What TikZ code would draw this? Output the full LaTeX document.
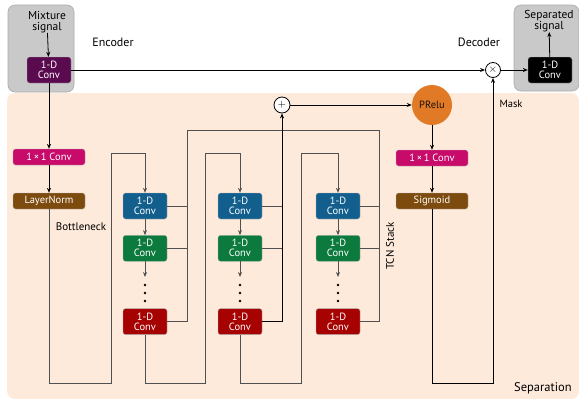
\documentclass[tikz,border=0pt]{standalone}
\usepackage{fontspec}
\setmainfont{PT Sans}
\usetikzlibrary{arrows.meta,positioning,calc}
\definecolor{Peach}{HTML}{FDEADB}
\definecolor{Shade}{HTML}{C9C9C9}
\definecolor{ShadeLine}{HTML}{ABABAB}
\definecolor{Plum}{HTML}{5A0A4E}
\definecolor{Rose}{HTML}{C80A6A}
\definecolor{Umber}{HTML}{7E4B0E}
\definecolor{Ocean}{HTML}{125F8E}
\definecolor{Forest}{HTML}{0D7A3D}
\definecolor{Crimson}{HTML}{A60202}
\definecolor{Tangerine}{HTML}{E07A26}
\definecolor{Wire}{HTML}{505050}
\tikzset{
  block/.style={rounded corners=2.5pt,draw=white!70!black,line width=0.3pt,minimum width=44pt,minimum height=26pt,inner sep=0pt,align=center,text=white,font=\fontsize{10.5}{10}\selectfont},
  wide/.style={rounded corners=2.5pt,draw=white!70!black,line width=0.3pt,minimum width=72pt,minimum height=16pt,inner sep=0pt,align=center,text=white,font=\fontsize{10.5}{10}\selectfont},
  panel/.style={rounded corners=7pt,draw=ShadeLine,fill=Shade,line width=0.6pt,inner sep=0pt},
  op/.style={circle,draw=black,fill=white,line width=0.8pt,minimum size=15pt,inner sep=0pt,font=\fontsize{11}{11}\selectfont},
  tag/.style={inner sep=0pt,align=center,font=\fontsize{10.5}{11}\selectfont},
  arrow/.style={-{Stealth[length=5pt,width=4pt]},line width=0.8pt,draw=black},
  feed/.style={-{Stealth[length=5pt,width=4pt]},line width=0.9pt,draw=Wire},
  wire/.style={line width=0.9pt,draw=Wire}
}
\begin{document}
\begin{tikzpicture}[x=1pt,y=-1pt,node distance=16pt]
  \useasboundingbox (0,0) rectangle (579,399);
  \node[rounded corners=8pt,fill=Peach,minimum width=572pt,minimum height=306pt,inner sep=0pt] (sep) at (293,246) {};
  \node[panel,minimum width=66pt,minimum height=87pt] (mixbox) at (41,48.5) {};
  \node[panel,minimum width=65pt,minimum height=86pt] (outbox) at (546.5,48) {};

  % encoder and decoder
  \node[tag,font=\fontsize{11.5}{11}\selectfont] (mixlbl) at (47,22) {Mixture\\signal};
  \node[block,fill=Plum] (enc) at (49,70) {1-D\\Conv};
  \node[tag,font=\fontsize{11.5}{11}\selectfont] (outlbl) at (549,21) {Separated\\signal};
  \node[block,fill=black] (dec) at (550,70) {1-D\\Conv};
  \node[op] (mult) at (493,70) {$\times$};
  \node[tag,font=\fontsize{12}{12}\selectfont] (enclbl) at (113,42) {Encoder};
  \node[tag,font=\fontsize{12}{12}\selectfont] (declbl) at (479,42) {Decoder};

  \draw[arrow] (mixlbl) -- (enc);
  \draw[arrow] (enc) -- (mult);
  \draw[arrow] (mult) -- (dec);
  \draw[arrow] (dec) -- (outlbl);

  % bottleneck
  \node[wide,fill=Rose] (inconv) at (49,157) {1\,×\,1 Conv};
  \node[wide,fill=Umber] (lnorm) at (49,201) {LayerNorm};
  \node[tag,font=\fontsize{11}{11}\selectfont] (neck) at (81,227) {Bottleneck};
  \draw[arrow] (enc) -- (inconv);
  \draw[arrow] (inconv) -- (lnorm);

  % TCN stack
  \node[block,fill=Ocean] (b1) at (145,206) {1-D\\Conv};
  \node[block,fill=Forest,below=of b1] (g1) {1-D\\Conv};
  \node[block,fill=Crimson,below=47pt of g1] (r1) {1-D\\Conv};
  \node[block,fill=Ocean] (b2) at (240,206) {1-D\\Conv};
  \node[block,fill=Forest,below=of b2] (g2) {1-D\\Conv};
  \node[block,fill=Crimson,below=47pt of g2] (r2) {1-D\\Conv};
  \node[block,fill=Ocean] (b3) at (338,206) {1-D\\Conv};
  \node[block,fill=Forest,below=of b3] (g3) {1-D\\Conv};
  \node[block,fill=Crimson,below=47pt of g3] (r3) {1-D\\Conv};
  \coordinate (d1) at (145,277);
  \coordinate (d2) at (240,277);
  \coordinate (d3) at (338,277);
  \fill (145,285) circle (1.4) (145,293) circle (1.4) (145,301) circle (1.4);
  \fill (240,285) circle (1.4) (240,293) circle (1.4) (240,301) circle (1.4);
  \fill (338,285) circle (1.4) (338,293) circle (1.4) (338,301) circle (1.4);
  \node[op,minimum size=16pt] (plus) at (282,105) {$+$};
  \node[tag,rotate=90,font=\fontsize{11}{11}\selectfont] (tcnlbl) at (390,246) {TCN Stack};

  \coordinate (floor) at (0,383);
  \coordinate (in1) at (111,153);
  \coordinate (in2) at (205,153);
  \coordinate (in3) at (301,153);
  \coordinate (k1) at (187,130);
  \coordinate (k3) at (379,130);

  \draw[feed] (lnorm.south) |- (in1 |- floor) -- (in1) -| (b1.north);
  \draw[feed] (r1.south) |- (in2 |- floor) -- (in2) -| (b2.north);
  \draw[feed] (r2.south) |- (in3 |- floor) -- (in3) -| (b3.north);
  \draw[feed] (b1) -- (g1);
  \draw[feed] (g1) -- (d1);
  \draw[feed] (b2) -- (g2);
  \draw[feed] (g2) -- (d2);
  \draw[feed] (b3) -- (g3);
  \draw[feed] (g3) -- (d3);

  \draw[wire] (b1.east) -- (b1.east -| k1);
  \draw[wire] (g1.east) -- (g1.east -| k1);
  \draw[wire] (r1.east) -| (k1) -- (k3);
  \draw[wire] (b3.east) -- (b3.east -| k3);
  \draw[wire] (g3.east) -- (g3.east -| k3);
  \draw[wire] (r3.east) -| (k3);
  \draw[wire] (b2.east) -- (b2.east -| plus);
  \draw[wire] (g2.east) -- (g2.east -| plus);
  \draw[arrow] (r2.east) -| (plus);

  % mask branch
  \node[circle,fill=Tangerine,minimum size=40pt,inner sep=0pt,text=black!85!brown,font=\fontsize{10.5}{10}\selectfont] (prelu) at (432,105) {PRelu};
  \node[wide,fill=Rose] (outconv) at (432,158) {1\,×\,1 Conv};
  \node[wide,fill=Umber] (sig) at (432,201) {Sigmoid};
  \node[tag] (masklbl) at (511,104) {Mask};
  \node[tag,font=\fontsize{12.5}{12}\selectfont] (seplbl) at (543,388) {Separation};

  \draw[arrow] (plus) -- (prelu);
  \draw[arrow] (prelu) -- (outconv);
  \draw[arrow] (outconv) -- (sig);
  \draw[arrow] (sig.south) |- (mult |- floor) -- (mult);
\end{tikzpicture}
\end{document}
